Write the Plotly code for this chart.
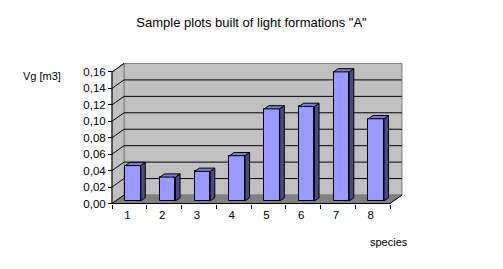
import plotly.graph_objects as go

# ---- data ----
categories = [1, 2, 3, 4, 5, 6, 7, 8]
tick_labels = ["1", "2", "3", "4", "5", "6", "7", "8"]
values = [0.043, 0.029, 0.036, 0.055, 0.112, 0.115, 0.157, 0.100]
y_ticks = [0.00, 0.02, 0.04, 0.06, 0.08, 0.10, 0.12, 0.14, 0.16]
y_tick_labels = ["0,00", "0,02", "0,04", "0,06", "0,08", "0,10", "0,12", "0,14", "0,16"]
title_text = 'Sample plots built of light formations "A"'
y_title = "Vg [m3]"
x_title = "species"

# ---- geometry (pixel layout of the pseudo-3D frame) ----
W, H = 503, 269
X0_PX, UX = 112.0, 34.75      # px of x=0.5 (front-left), px per category
Y0_PX, UY = 203.5, 822.0      # px of value 0 at the front, px per unit value
DX_PX, DY_PX = 12.0, 8.5      # depth offset of back wall
dxu, dyu = DX_PX / UX, DY_PX / UY
L, R, T, B = 109, 98, 60, 63
plot_left_px, plot_right_px = L, W - R
plot_top_px, plot_bot_px = T, H - B
xr = [0.5 - (X0_PX - plot_left_px) / UX, 0.5 + (plot_right_px - X0_PX) / UX]
yr = [(Y0_PX - plot_bot_px) / UY, (Y0_PX - plot_top_px) / UY]
ymax_axis = y_ticks[-1]
xmin_c, xmax_c = categories[0] - 0.5, categories[-1] + 0.5

def paper_x(px):
    return (px - plot_left_px) / (plot_right_px - plot_left_px)

def paper_y(py):
    return (plot_bot_px - py) / (plot_bot_px - plot_top_px)

FRONT_F = 0.30   # depth fraction of bar front face
DEPTH_F = 0.38   # depth fraction of bar thickness
BAR_W = 15.5 / UX

FRONT_C = "#9999ff"
SIDE_C = "#4a4a85"
TOP_C = "#7b7bcf"

fig = go.Figure()

# bar front faces
bx = [c + FRONT_F * dxu for c in categories]
base = FRONT_F * dyu
fig.add_trace(go.Bar(
    x=bx, y=values, base=[base] * len(values), width=BAR_W,
    marker=dict(color=FRONT_C, line=dict(color="black", width=1)),
    hoverinfo="skip", showlegend=False))

# sides and tops
sx, sy, tx, ty = [], [], [], []
for c, v in zip(bx, values):
    xl, xrr = c - BAR_W / 2, c + BAR_W / 2
    ox, oy = DEPTH_F * dxu, DEPTH_F * dyu
    sx += [xrr, xrr + ox, xrr + ox, xrr, xrr, None]
    sy += [base, base + oy, base + v + oy, base + v, base, None]
    tx += [xl, xl + ox, xrr + ox, xrr, xl, None]
    ty += [base + v, base + v + oy, base + v + oy, base + v, base + v, None]
fig.add_trace(go.Scatter(x=sx, y=sy, mode="lines", fill="toself", fillcolor=SIDE_C,
                         line=dict(color="black", width=1), hoverinfo="skip", showlegend=False))
fig.add_trace(go.Scatter(x=tx, y=ty, mode="lines", fill="toself", fillcolor=TOP_C,
                         line=dict(color="black", width=1), hoverinfo="skip", showlegend=False))

shapes = []
# back wall
shapes.append(dict(type="rect", layer="below", xref="x", yref="y",
                   x0=xmin_c + dxu, x1=xmax_c + dxu, y0=dyu, y1=ymax_axis + dyu,
                   fillcolor="#c0c0c0", line=dict(color="#808080", width=1)))
# left wall
shapes.append(dict(type="path", layer="below", xref="x", yref="y",
                   path=f"M{xmin_c},0 L{xmin_c+dxu},{dyu} L{xmin_c+dxu},{ymax_axis+dyu} L{xmin_c},{ymax_axis} Z",
                   fillcolor="#c0c0c0", line=dict(color="#808080", width=1)))
# floor
shapes.append(dict(type="path", layer="below", xref="x", yref="y",
                   path=f"M{xmin_c},0 L{xmax_c},0 L{xmax_c+dxu},{dyu} L{xmin_c+dxu},{dyu} Z",
                   fillcolor="#808080", line=dict(color="#808080", width=1)))
# gridlines
for v in y_ticks[1:-1]:
    shapes.append(dict(type="line", layer="below", xref="x", yref="y",
                       x0=xmin_c + dxu, x1=xmax_c + dxu, y0=v + dyu, y1=v + dyu,
                       line=dict(color="black", width=1)))
for v in y_ticks:
    shapes.append(dict(type="line", layer="below", xref="x", yref="y",
                       x0=xmin_c, x1=xmin_c + dxu, y0=v, y1=v + dyu,
                       line=dict(color="black", width=1)))
# front axis lines
shapes.append(dict(type="line", layer="above", xref="x", yref="y",
                   x0=xmin_c, x1=xmax_c, y0=0, y1=0, line=dict(color="black", width=1)))
shapes.append(dict(type="line", layer="above", xref="x", yref="y",
                   x0=xmin_c, x1=xmin_c, y0=0, y1=ymax_axis, line=dict(color="black", width=1)))
shapes.append(dict(type="line", layer="above", xref="x", yref="y",
                   x0=xmax_c, x1=xmax_c + dxu, y0=0, y1=dyu, line=dict(color="black", width=1)))

FONT = "Arial, Liberation Sans, sans-serif"
x_axis_pos = (0 - yr[0]) / (yr[1] - yr[0])
y_axis_pos = (xmin_c - xr[0]) / (xr[1] - xr[0])

fig.update_layout(
    width=W, height=H,
    margin=dict(l=L, r=R, t=T, b=B, pad=0),
    paper_bgcolor="white", plot_bgcolor="white",
    font=dict(family=FONT, size=11, color="black"),
    shapes=shapes,
    bargap=0,
    title=dict(text=title_text, x=0.5, xref="container", xanchor="center",
               y=1 - 22 / H, yref="container", yanchor="middle",
               font=dict(family=FONT, size=13, color="black")),
    xaxis=dict(type="linear", range=xr, showgrid=False, zeroline=False, showline=False,
               tickvals=categories, ticktext=tick_labels, ticks="",
               tickfont=dict(size=11.5), ticklabelstandoff=3, ticklabelshift=-2,
               minor=dict(ticks="outside", ticklen=4, tickcolor="black", tickwidth=1,
                          tick0=0.5, dtick=1, showgrid=False),
               anchor="free", position=x_axis_pos, fixedrange=True),
    yaxis=dict(range=yr, showgrid=False, zeroline=False, showline=False,
               tickvals=y_ticks, ticktext=y_tick_labels, ticks="outside", ticklen=4,
               tickcolor="black", tickfont=dict(size=11.5),
               anchor="free", position=y_axis_pos, fixedrange=True),
    annotations=[
        dict(text=y_title, xref="paper", yref="paper", x=paper_x(42), y=paper_y(76),
             showarrow=False, xanchor="center", yanchor="middle", font=dict(size=11)),
        dict(text=x_title, xref="paper", yref="paper", x=paper_x(389), y=paper_y(242),
             showarrow=False, xanchor="center", yanchor="middle", font=dict(size=11)),
    ],
)

fig.write_html("out.html", config={"displayModeBar": False})
